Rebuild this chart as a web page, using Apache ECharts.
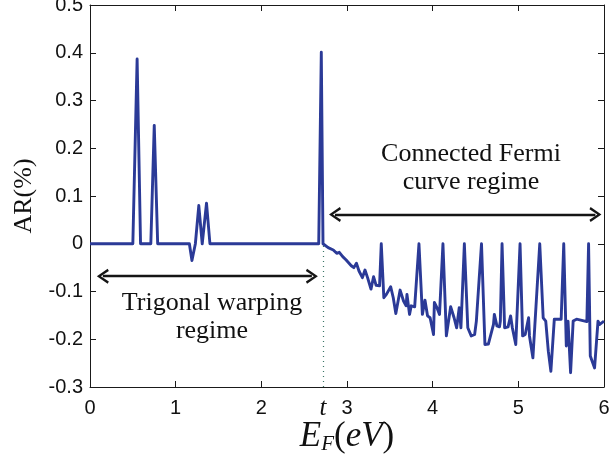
<!DOCTYPE html>
<html>
<head>
<meta charset="utf-8">
<script src="https://cdn.jsdelivr.net/npm/echarts@6/dist/echarts.min.js"></script>
<style>
html,body{margin:0;padding:0;background:#fff;}
#c{width:613px;height:455px;}
</style>
</head>
<body>
<div id="c"></div>
<script>
// Energy values (eV)
const energy = [
  0, 0.50, 0.55, 0.59, 0.71, 0.75, 0.79, 1.16, 1.19, 1.23, 1.27, 1.31, 1.36, 1.40,
  2.67, 2.70, 2.72, 2.78, 2.84, 2.88, 2.91, 2.95, 2.99, 3.01, 3.05, 3.08, 3.11, 3.14,
  3.18, 3.21, 3.24, 3.28, 3.31, 3.34, 3.38, 3.40, 3.43, 3.46, 3.51, 3.54, 3.57, 3.62,
  3.66, 3.69, 3.70, 3.73, 3.75, 3.79, 3.84, 3.88, 3.91, 3.94, 3.97, 4.01, 4.02, 4.05,
  4.08, 4.12, 4.16, 4.21, 4.25, 4.28, 4.31, 4.33, 4.37, 4.41, 4.45, 4.49, 4.51, 4.53,
  4.57, 4.61, 4.65, 4.71, 4.72, 4.75, 4.78, 4.79, 4.81, 4.84, 4.88, 4.91, 4.93, 4.97,
  5.02, 5.05, 5.08, 5.12, 5.13, 5.17, 5.25, 5.29, 5.32, 5.35, 5.38, 5.42, 5.50, 5.53,
  5.56, 5.58, 5.61, 5.64, 5.68, 5.80, 5.82, 5.84, 5.89, 5.93, 5.95, 6.00
];
// AR (%) values
const arValues = [
  0, 0, 0.387, 0, 0, 0.248, 0, 0, -0.035, 0, 0.080, 0, 0.085, 0,
  0, 0.401, 0, -0.008, -0.013, -0.020, -0.018, -0.027, -0.034, -0.031, -0.046, -0.050, -0.041, -0.057,
  -0.071, -0.055, -0.071, -0.095, -0.069, -0.087, -0.088, 0, -0.113, -0.106, -0.090, -0.113, -0.146, -0.097,
  -0.120, -0.130, -0.106, -0.148, -0.130, -0.132, 0, -0.148, -0.118, -0.151, -0.155, -0.190, -0.123, -0.134,
  -0.148, 0, -0.193, -0.132, -0.155, -0.176, -0.134, -0.176, 0, -0.176, -0.193, -0.190, -0.162, -0.158,
  0, -0.211, -0.210, -0.169, -0.148, -0.172, -0.174, -0.162, 0, -0.176, -0.174, -0.151, -0.176, -0.211,
  0, -0.193, -0.190, -0.155, -0.193, -0.239, 0, -0.155, -0.162, -0.225, -0.267, -0.158, -0.158, 0,
  -0.214, -0.162, -0.270, -0.162, -0.158, -0.163, 0, -0.235, -0.260, -0.162, -0.169, -0.162
];
const xTickLabels = ['0', '1', '2', '3', '4', '5', '6'];
const yTickLabels = ['-0.3', '-0.2', '-0.1', '0', '0.1', '0.2', '0.3', '0.4', '0.5'];
const tEnergy = 2.72;
const leftRegime = { from: 0.15, to: 2.59, y: -0.068, text: 'Trigonal warping\nregime' };
const rightRegime = { from: 2.86, to: 5.90, y: 0.061, text: 'Connected Fermi\ncurve regime' };

const lineColor = '#2B3A97';
const chevron = 'path://M0,13 L8,0 L16,13 L13.6,14.4 L8,4.8 L2.4,14.4 Z';

const chart = echarts.init(document.getElementById('c'), null, { renderer: 'canvas' });

const axisCommon = {
  axisLine: { onZero: false, lineStyle: { color: '#1a1a1a', width: 1 } },
  axisTick: { inside: true, length: 6, lineStyle: { color: '#1a1a1a' } },
  splitLine: { show: false }
};

const option = {
  animation: false,
  backgroundColor: '#fff',
  grid: { left: 90, right: 9, top: 5, bottom: 68, containLabel: false, outerBoundsMode: 'none' },
  xAxis: [
    Object.assign({
      type: 'value', min: 0, max: 6, interval: 1, position: 'bottom',
      name: '{e|E}{s|F}{p|(}{e|eV}{p|)}',
      nameLocation: 'middle', nameGap: 32, nameMoveOverlap: false,
      nameTextStyle: {
        rich: {
          e: { fontFamily: 'Liberation Serif', fontStyle: 'italic', fontSize: 35, color: '#111', lineHeight: 36 },
          s: { fontFamily: 'Liberation Serif', fontStyle: 'italic', fontSize: 21, color: '#111', verticalAlign: 'bottom', lineHeight: 28 },
          p: { fontFamily: 'Liberation Serif', fontSize: 35, color: '#111', lineHeight: 36 }
        }
      },
      axisLabel: {
        fontFamily: 'Liberation Sans', fontSize: 20, color: '#111', margin: 11,
        formatter: v => xTickLabels[Math.round(v)]
      }
    }, axisCommon),
    Object.assign({
      type: 'value', min: 0, max: 6, interval: 1, position: 'top',
      axisLabel: { show: false }
    }, axisCommon)
  ],
  yAxis: [
    Object.assign({
      type: 'value', min: -0.3, max: 0.5, interval: 0.1, position: 'left',
      name: 'AR(%)', nameLocation: 'middle', nameGap: 49, nameRotate: 90,
      nameTextStyle: { fontFamily: 'Liberation Serif', fontSize: 26, color: '#111' },
      axisLabel: {
        fontFamily: 'Liberation Sans', fontSize: 20, color: '#111', margin: 7,
        formatter: v => yTickLabels[Math.round((v + 0.3) * 10)]
      }
    }, axisCommon),
    Object.assign({
      type: 'value', min: -0.3, max: 0.5, interval: 0.1, position: 'right',
      axisLabel: { show: false }
    }, axisCommon)
  ],
  series: [
    {
      type: 'line',
      data: energy.map((e, i) => [e, arValues[i]]),
      showSymbol: false,
      symbol: 'none',
      lineStyle: { color: lineColor, width: 2.9, join: 'round' },
      z: 3,
      markLine: {
        silent: true,
        animation: false,
        data: [
          [
            { coord: [tEnergy, -0.3], symbol: 'none',
              lineStyle: { color: '#3a7566', type: [1, 4], width: 1.2 },
              label: { show: true, position: 'start', formatter: 't', distance: 9,
                fontFamily: 'Liberation Serif', fontStyle: 'italic', fontSize: 25, color: '#111' } },
            { coord: [tEnergy, 0], symbol: 'none' }
          ],
          [
            { coord: [leftRegime.from, leftRegime.y], symbol: chevron, symbolSize: [15, 12],
              lineStyle: { color: '#151515', type: 'solid', width: 2.4 }, label: { show: false } },
            { coord: [leftRegime.to, leftRegime.y], symbol: chevron, symbolSize: [15, 12] }
          ],
          [
            { coord: [rightRegime.from, rightRegime.y], symbol: chevron, symbolSize: [15, 12],
              lineStyle: { color: '#151515', type: 'solid', width: 2.4 }, label: { show: false } },
            { coord: [rightRegime.to, rightRegime.y], symbol: chevron, symbolSize: [15, 12] }
          ]
        ]
      }
    }
  ],
  graphic: [
    {
      type: 'text', x: 212, y: 289, silent: true,
      style: { text: leftRegime.text, font: '26px "Liberation Serif"', fill: '#111',
        textAlign: 'center', textVerticalAlign: 'top', lineHeight: 28 }
    },
    {
      type: 'text', x: 471, y: 140, silent: true,
      style: { text: rightRegime.text, font: '26px "Liberation Serif"', fill: '#111',
        textAlign: 'center', textVerticalAlign: 'top', lineHeight: 28 }
    }
  ]
};
chart.setOption(option);
</script>
</body>
</html>
